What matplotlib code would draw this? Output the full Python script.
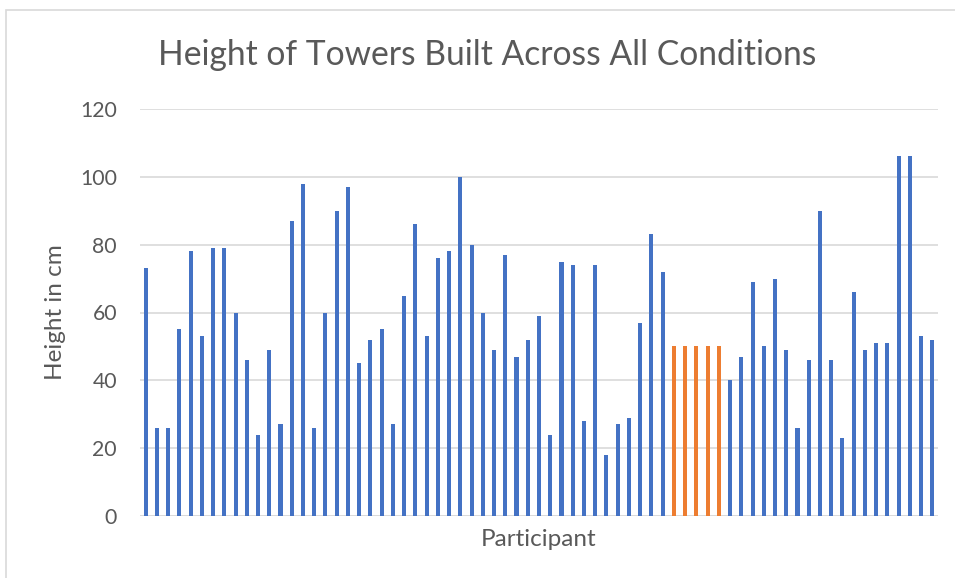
import matplotlib.pyplot as plt
from matplotlib.patches import Rectangle

plt.rcParams["font.family"] = ["Lato", "DejaVu Sans"]

# tower heights per participant (cm), in chart order
heights = [73, 26, 26, 55, 78, 53, 79, 79, 60, 46, 24, 49, 27, 87, 98, 26,
           60, 90, 97, 45, 52, 55, 27, 65, 86, 53, 76, 78, 100, 80, 60, 49,
           77, 47, 52, 59, 24, 75, 74, 28, 74, 18, 27, 29, 57, 83, 72,
           50, 50, 50, 50, 50,
           40, 47, 69, 50, 70, 49, 26, 46, 90, 46, 23, 66, 49, 51, 51, 106,
           106, 53, 52]
# which bars are highlighted (orange)
highlight = [False] * 47 + [True] * 5 + [False] * 19
yticks = [0, 20, 40, 60, 80, 100, 120]

blue = "#4472C4"
orange = "#ED7D31"
txt = "#595959"

fig = plt.figure(figsize=(9.55, 5.78), dpi=100)
W, H = 955, 578
ax = fig.add_axes([140 / W, 1 - 516 / H, (938 - 140) / W, (516 - 109) / H])

x = list(range(len(heights)))
colors = [orange if h else blue for h in highlight]
ax.bar(x, heights, width=0.36, color=colors, zorder=3)

ax.set_xlim(-0.5, len(heights) - 0.5)
ax.set_ylim(0, 120)
ax.set_yticks(yticks)
ax.set_xticks([])
ax.grid(axis="y", color="#D9D9D9", linewidth=1.2, zorder=0)
for s in ax.spines.values():
    s.set_visible(False)
ax.axhline(0, color="#D9D9D9", linewidth=1.2, zorder=2)
ax.tick_params(axis="y", length=0, pad=16.5, labelsize=15.3, labelcolor=txt)

ax.set_ylabel("Height in cm", fontsize=17.5, color=txt, labelpad=10)
ax.set_xlabel("Participant", fontsize=17.5, color=txt, labelpad=9)
fig.text(487 / W, 1 - 55 / H, "Height of Towers Built Across All Conditions",
         ha="center", va="center", fontsize=24.2, color=txt)

# chart border
fig.patches.append(Rectangle((6 / W, -0.1), 1.2, 1 - 10 / H + 0.1,
                             transform=fig.transFigure, fill=False,
                             edgecolor="#D9D9D9", linewidth=1.2))

fig.savefig("out.png", dpi=100)
